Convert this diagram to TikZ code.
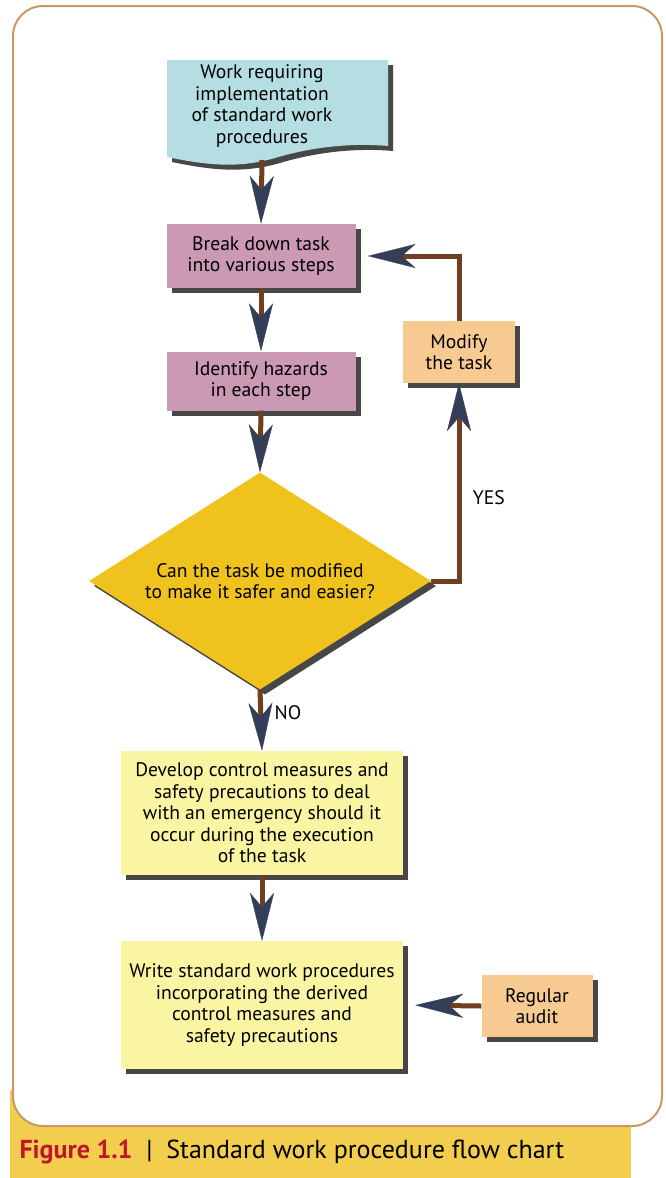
\documentclass[tikz,border=0pt]{standalone}
\usepackage{fontspec}
\setmainfont{PT Sans}
\usetikzlibrary{arrows.meta,shapes.geometric,shadows}
\definecolor{docblue}{RGB}{180,222,226}
\definecolor{steppink}{RGB}{204,153,180}
\definecolor{peach}{RGB}{247,202,146}
\definecolor{gold}{RGB}{240,194,30}
\definecolor{paleyellow}{RGB}{250,245,162}
\definecolor{capyellow}{RGB}{243,205,78}
\definecolor{framebrown}{RGB}{200,152,104}
\definecolor{shaftbrown}{RGB}{112,62,32}
\definecolor{headblue}{RGB}{52,62,88}
\definecolor{figred}{RGB}{192,22,44}
\tikzset{
  boxshadow/.style={drop shadow={shadow xshift=5pt, shadow yshift=-5pt, fill=black!80, opacity=0.9}},
  procbox/.style={rectangle, boxshadow, align=center, inner sep=2pt,
    font=\fontsize{19.6}{21.5}\selectfont},
  flow/.style={draw=shaftbrown, line width=5pt,
    -{Stealth[length=48pt, width=24pt, inset=14pt, color=headblue, line width=0.4pt]}},
  flowlabel/.style={font=\fontsize{19.6}{21.5}\selectfont}
}
\begin{document}
\begin{tikzpicture}[x=1pt, y=-1pt]
    \useasboundingbox (0, 0) rectangle (666, 1178);
    % caption band and frame
    \fill[capyellow] (10, 1090) rectangle (631, 1178);
    \draw[framebrown, line width=2pt, fill=white, rounded corners=30pt] (13, 6) rectangle (662, 1126);
    \node[anchor=west, font=\fontsize{26}{28}\selectfont] (caption) at (16, 1152)
      {\textcolor{figred}{\bfseries Figure 1.1}\ \ |\ \ Standard work procedure flow chart};
    % document shape at the top
    \fill[docblue, boxshadow] (167, 60) -- (388, 60) -- (388, 146)
      .. controls (355, 143) and (315, 146) .. (275, 158)
      .. controls (240, 168) and (210, 166) .. (167, 157) -- cycle;
    \node[align=center, font=\fontsize{19.6}{21.5}\selectfont] (work) at (262, 106)
      {Work requiring\\implementation\\of standard work\\procedures};
    \coordinate (workbot) at (262, 160);
    % steps
    \node[procbox, fill=steppink, minimum width=189pt, minimum height=64pt] (breakdown) at (261, 256)
      {Break down task\\into various steps};
    \node[procbox, fill=steppink, minimum width=189pt, minimum height=59pt] (hazard) at (261, 381)
      {Identify hazards\\in each step};
    \node[procbox, fill=peach, minimum width=112pt, minimum height=62pt] (modify) at (459, 352)
      {Modify\\the task};
    \node[diamond, aspect=1.576, fill=gold, boxshadow, align=center, inner sep=0pt,
      minimum width=342pt, minimum height=217pt, font=\fontsize{19.6}{21.5}\selectfont] (decision) at (260, 581)
      {Can the task be modified\\to make it safer and easier?};
    \node[procbox, fill=paleyellow, minimum width=282pt, minimum height=124pt] (develop) at (262, 813)
      {Develop control measures and\\safety precautions to deal\\with an emergency should it\\occur during the execution\\of the task};
    \node[procbox, fill=paleyellow, minimum width=282pt, minimum height=128pt] (write) at (262, 1005)
      {Write standard work procedures\\incorporating the derived\\control measures and\\safety precautions};
    \node[procbox, fill=peach, minimum width=111pt, minimum height=62pt] (audit) at (537, 1006)
      {Regular\\audit};
    % connectors
    \draw[flow] (workbot) -- (breakdown.north);
    \foreach \a/\b in {breakdown/hazard, hazard/decision, develop/write}
      \draw[flow] (\a.south) -- (\b.north);
    \draw[flow] (decision.south) -- node[flowlabel, right=8pt, pos=0.38] {NO} (develop.north);
    \draw[flow] (decision.east) -| node[flowlabel, right=8pt, pos=0.71] {YES} (modify.south);
    \draw[flow, shorten >=12pt] (modify.north) |- (breakdown.east);
    \draw[flow, shorten >=12pt] (audit.west) -- (write.east);
  \end{tikzpicture}
\end{document}
